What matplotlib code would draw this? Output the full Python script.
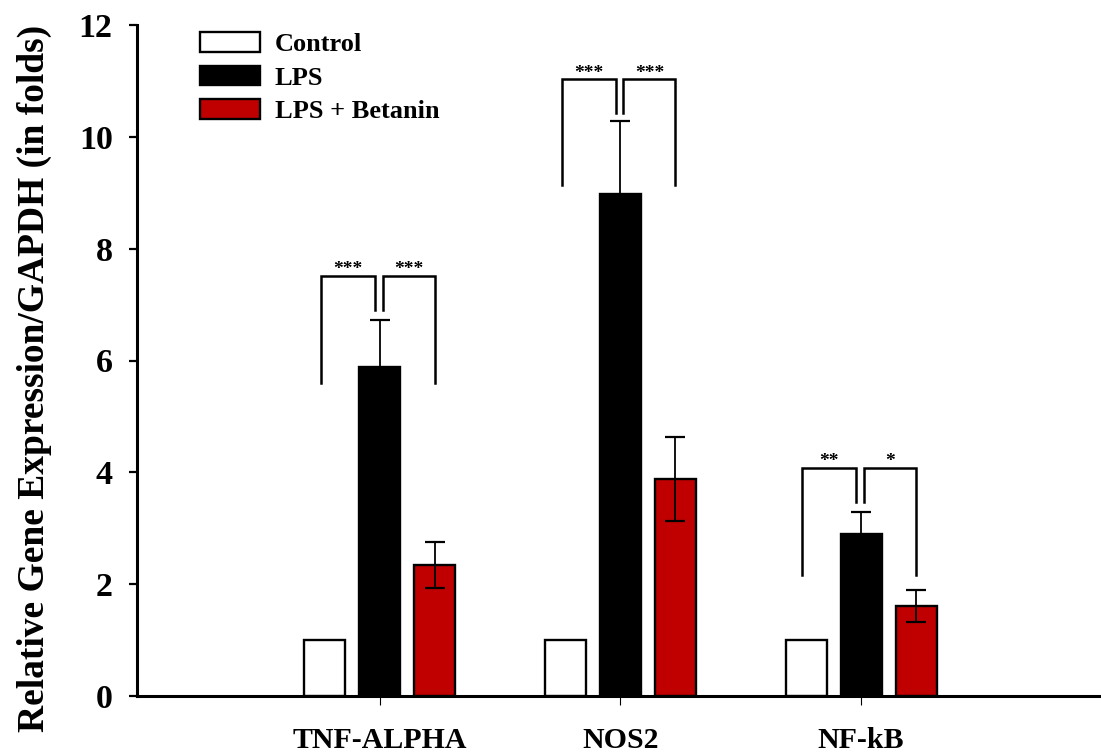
import matplotlib
matplotlib.use("Agg")
import matplotlib.pyplot as plt
import numpy as np

plt.rcParams['font.family'] = ['Liberation Serif', 'DejaVu Serif']
plt.rcParams['font.weight'] = 'bold'

# ---- data ----
genes = ["TNF-ALPHA", "NOS2", "NF-kB"]
series_names = ["Control", "LPS", "LPS + Betanin"]
control = [1.0, 1.0, 1.0]
lps = [5.88, 8.98, 2.89]
lps_err = [0.84, 1.31, 0.40]
betanin = [2.35, 3.875, 1.61]
betanin_err = [0.41, 0.75, 0.29]

# significance brackets (y levels)
bracket_top = [7.51, 11.03, 4.08]
bracket_outer_end = [5.60, 9.14, 2.16]
bracket_inner_end = [6.90, 10.43, 3.47]
sig_left = ["***", "***", "**"]
sig_right = ["***", "***", "*"]

yticks = [0, 2, 4, 6, 8, 10, 12]

# ---- figure ----
fig = plt.figure(figsize=(11.01, 7.55), dpi=100)
ax = fig.add_axes([137/1101, 1-696/755, 963/1101, 671/755])

x = np.arange(1, len(genes) + 1)
w = 0.17
off = 0.2285
red = "#C00000"

b1 = ax.bar(x - off, control, w, color="white", edgecolor="black", linewidth=1.7,
            label=series_names[0], zorder=2)
b2 = ax.bar(x, lps, w, color="black", edgecolor="black", linewidth=1.7,
            label=series_names[1], zorder=2)
b3 = ax.bar(x + off, betanin, w, color=red, edgecolor="black", linewidth=1.7,
            label=series_names[2], zorder=2)
ax.errorbar(x, lps, yerr=lps_err, fmt="none", ecolor="black", elinewidth=1.3,
            capsize=7.5, capthick=1.6, zorder=3)
ax.errorbar(x + off, betanin, yerr=betanin_err, fmt="none", ecolor="black",
            elinewidth=1.3, capsize=7.5, capthick=1.6, zorder=3)

# brackets
for i in range(len(genes)):
    xc = x[i] - off - 0.016
    xli = x[i] - 0.02
    xri = x[i] + 0.012
    xr = x[i] + off
    t = bracket_top[i]
    ax.plot([xc, xc, xli, xli], [bracket_outer_end[i], t, t, bracket_inner_end[i]],
            color="black", lw=1.8, solid_joinstyle="miter", zorder=3)
    ax.plot([xri, xri, xr, xr], [bracket_inner_end[i], t, t, bracket_outer_end[i]],
            color="black", lw=1.8, solid_joinstyle="miter", zorder=3)
    ax.text((xc + xli) / 2, t + 0.03, sig_left[i], ha="center", va="baseline",
            fontsize=14, fontweight="bold")
    ax.text((xri + xr) / 2, t + 0.03, sig_right[i], ha="center", va="baseline",
            fontsize=14, fontweight="bold")

ax.set_xlim(-0.008, 3.992)
ax.set_ylim(0, 12)
ax.set_yticks(yticks)
ax.set_yticklabels([str(v) for v in yticks], fontsize=24.5, fontweight="bold")
ax.set_xticks(x)
ax.set_xticklabels(genes, fontsize=21.5, fontweight="bold")

for s in ["top", "right"]:
    ax.spines[s].set_visible(False)
ax.spines["left"].set_linewidth(2.2)
ax.spines["bottom"].set_linewidth(2.2)
ax.tick_params(axis="y", direction="out", length=5.5, width=1.6, pad=12)
ax.tick_params(axis="x", direction="out", length=6.5, width=0.8, pad=15.5)

ax.set_ylabel("Relative Gene Expression/GAPDH (in folds)", fontsize=27,
              fontweight="bold")
ax.yaxis.set_label_coords(-(137 - 52) / 963, (696 - 378) / 671)

leg = ax.legend(handles=[b1, b2, b3], loc="upper left",
                bbox_to_anchor=((200-137)/963, (696-32)/671),
                frameon=False, fontsize=19, handlelength=2.27, handleheight=0.76,
                handletextpad=0.57, labelspacing=0.37, borderpad=0, borderaxespad=0)

fig.savefig("out.png", dpi=100)
